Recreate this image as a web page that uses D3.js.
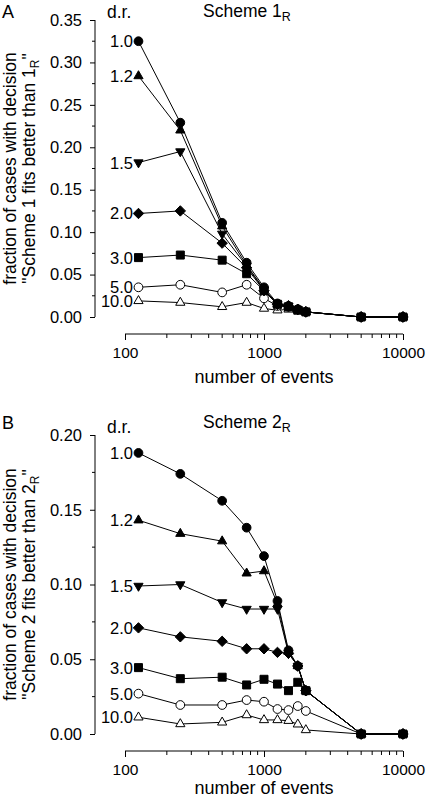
<!DOCTYPE html>
<html><head><meta charset="utf-8">
<script src="https://cdn.jsdelivr.net/npm/d3@7"></script>
<style>
body{margin:0;background:#fff;}
svg{display:block;font-family:"Liberation Sans",Arial,Helvetica,sans-serif;}
</style></head>
<body>
<script>
// ---- data ----
const eventCounts = [125,250,500,750,1000,1250,1500,1750,2000,5000,10000];
const drLabels = ["1.0","1.2","1.5","2.0","3.0","5.0","10.0"];
const markerTypes = ["circle","triangleUp","triangleDown","diamond","square","openCircle","openTriangle"];
const xTickLabels = ["100","1000","10000"];
const yTicksA = ["0.00","0.05","0.10","0.15","0.20","0.25","0.30","0.35"];
const yTicksB = ["0.00","0.05","0.10","0.15","0.20"];

const schemeA_dr1_0  = [0.325,0.229,0.111,0.064,0.035,0.016,0.013,0.009,0.006,0,0];
const schemeA_dr1_2  = [0.284,0.220,0.107,0.061,0.033,0.015,0.013,0.009,0.006,0,0];
const schemeA_dr1_5  = [0.182,0.195,0.098,0.060,0.032,0.015,0.013,0.009,0.006,0,0];
const schemeA_dr2_0  = [0.122,0.125,0.087,0.058,0.031,0.015,0.013,0.009,0.006,0,0];
const schemeA_dr3_0  = [0.070,0.073,0.067,0.051,0.031,0.015,0.012,0.008,0.006,0,0];
const schemeA_dr5_0  = [0.035,0.038,0.029,0.038,0.022,0.013,0.012,0.009,0.006,0,0];
const schemeA_dr10_0 = [0.019,0.017,0.012,0.017,0.010,0.008,0.009,0.008,0.006,0,0];

const schemeB_dr1_0  = [0.188,0.174,0.156,0.138,0.119,0.089,0.056,0.0455,0.029,0,0];
const schemeB_dr1_2  = [0.143,0.134,0.129,0.1075,0.109,0.087,0.055,0.0455,0.029,0,0];
const schemeB_dr1_5  = [0.099,0.100,0.088,0.0836,0.0836,0.0836,0.054,0.0455,0.029,0,0];
const schemeB_dr2_0  = [0.071,0.065,0.062,0.057,0.057,0.0546,0.054,0.0455,0.029,0,0];
const schemeB_dr3_0  = [0.0444,0.037,0.038,0.0328,0.0366,0.0334,0.029,0.0346,0.029,0,0];
const schemeB_dr5_0  = [0.027,0.0194,0.0194,0.0227,0.0216,0.0167,0.016,0.0187,0.0154,0,0];
const schemeB_dr10_0 = [0.0112,0.0067,0.0078,0.0127,0.0094,0.0094,0.0089,0.0065,0.0027,0,0];

const seriesA = [schemeA_dr1_0,schemeA_dr1_2,schemeA_dr1_5,schemeA_dr2_0,schemeA_dr3_0,schemeA_dr5_0,schemeA_dr10_0];
const seriesB = [schemeB_dr1_0,schemeB_dr1_2,schemeB_dr1_5,schemeB_dr2_0,schemeB_dr3_0,schemeB_dr5_0,schemeB_dr10_0];

// ---- drawing ----
const W = 427, H = 802;
const svg = d3.select("body").append("svg").attr("width",W).attr("height",H);

function markerPath(type){
  switch(type){
    case "circle": case "openCircle": return d3.symbol(d3.symbolCircle, 60)();
    case "square": return "M-4,-4H4V4H-4Z";
    case "diamond": return "M0,-5.2L5.2,0L0,5.2L-5.2,0Z";
    case "triangleUp": case "openTriangle": return "M0,-5.3L4.6,2.7L-4.6,2.7Z";
    case "triangleDown": return "M0,5.3L4.6,-2.7L-4.6,-2.7Z";
  }
}
function isOpen(type){ return type==="openCircle"||type==="openTriangle"; }

function panel(opt){
  const g = svg.append("g");
  const x = d3.scaleLog().domain([100,10000]).range([125,403]);
  const y = d3.scaleLinear().domain([0,opt.yMax]).range([opt.yBottom,opt.yTop]);

  // y axis
  const yAx = d3.axisLeft(y).tickValues(opt.yTicks.map(Number)).tickSize(5).tickPadding(6)
    .tickFormat((d,i)=>opt.yTicks[i]);
  const ya = g.append("g").attr("transform","translate(95,0)").call(yAx);
  ya.select(".domain").attr("d",`M0,${opt.yBottom}V${opt.yTop}`);
  const minorY = d3.range(0.025, opt.yMax, 0.05);
  ya.selectAll(".minor").data(minorY).enter().append("line").attr("class","minor")
    .attr("x1",-3).attr("x2",0).attr("y1",d=>y(d)).attr("y2",d=>y(d)).attr("stroke","#000");

  // x axis
  const xAx = d3.axisBottom(x).tickValues(xTickLabels.map(Number)).tickSize(6).tickPadding(6)
    .tickFormat((d,i)=>xTickLabels[i]);
  const xa = g.append("g").attr("transform",`translate(0,${opt.xAxisY})`).call(xAx);
  xa.select(".domain").attr("d",`M125,0H403`);
  const minorX = [200,300,400,500,600,700,800,900,2000,3000,4000,5000,6000,7000,8000,9000];
  xa.selectAll(".minor").data(minorX).enter().append("line").attr("class","minor")
    .attr("x1",d=>x(d)).attr("x2",d=>x(d)).attr("y1",0).attr("y2",4).attr("stroke","#000");

  [ya,xa].forEach(a=>{
    a.selectAll("text").attr("fill","#000").attr("font-family","Liberation Sans, Arial, sans-serif");
    a.selectAll("line,path").attr("stroke","#000").attr("stroke-width",1);
  });
  ya.selectAll(".tick text").attr("x",-13).attr("font-size",16.5);
  xa.selectAll(".tick text").attr("font-size",15.5).attr("dy","0.8em");

  // lines & markers
  const line = d3.line().x((d,i)=>x(eventCounts[i])).y(d=>y(d));
  for(let s=opt.series.length-1; s>=0; s--){
    g.append("path").attr("d",line(opt.series[s])).attr("fill","none").attr("stroke","#000").attr("stroke-width",1);
  }
  for(let s=opt.series.length-1; s>=0; s--){
    const t = markerTypes[s];
    g.selectAll(null).data(opt.series[s]).enter().append("path")
      .attr("d",markerPath(t))
      .attr("transform",(d,i)=>`translate(${x(eventCounts[i])},${y(d)})`)
      .attr("fill",isOpen(t)?"#fff":"#000").attr("stroke","#000").attr("stroke-width",1);
  }
  // series labels
  opt.series.forEach((ser,s)=>{
    g.append("text").attr("x",133).attr("y",y(ser[0])).attr("dy","0.36em")
      .attr("text-anchor","end").attr("font-size",16.5).text(drLabels[s]);
  });

  g.append("text").attr("x",107).attr("y",opt.headY).attr("font-size",17.5).text("d.r.");
  g.append("text").attr("x",2).attr("y",opt.letterY).attr("font-size",18).text(opt.letter);
  const t = g.append("text").attr("x",203).attr("y",opt.titleY).attr("font-size",17.5);
  t.append("tspan").text(opt.titleMain);
  t.append("tspan").attr("font-size",12.5).attr("dy",4).text("R");

  g.append("text").attr("x",264).attr("y",opt.xLabelY).attr("text-anchor","middle")
    .attr("font-size",18).text("number of events");

  const cy = (opt.yTop+opt.yBottom)/2;
  g.append("text").attr("transform",`translate(16,${cy}) rotate(-90)`).attr("text-anchor","middle")
    .attr("font-size",17.5).text("fraction of cases with decision");
  const l2 = g.append("text").attr("transform",`translate(35,${cy}) rotate(-90)`).attr("text-anchor","middle")
    .attr("font-size",17.5);
  l2.append("tspan").text(`"${opt.titleMain} fits better than ${opt.titleMain.slice(-1)}`);
  l2.append("tspan").attr("font-size",12).attr("dy",4).text("R");
  l2.append("tspan").attr("dy",-4).text('"');
}

panel({series:seriesA, yMax:0.35, yTop:20, yBottom:317, xAxisY:334, yTicks:yTicksA,
  headY:18, letterY:18, titleY:17, xLabelY:383, letter:"A", titleMain:"Scheme 1"});
panel({series:seriesB, yMax:0.20, yTop:435, yBottom:734, xAxisY:751, yTicks:yTicksB,
  headY:433, letterY:429, titleY:428, xLabelY:794, letter:"B", titleMain:"Scheme 2"});
</script>
</body></html>
